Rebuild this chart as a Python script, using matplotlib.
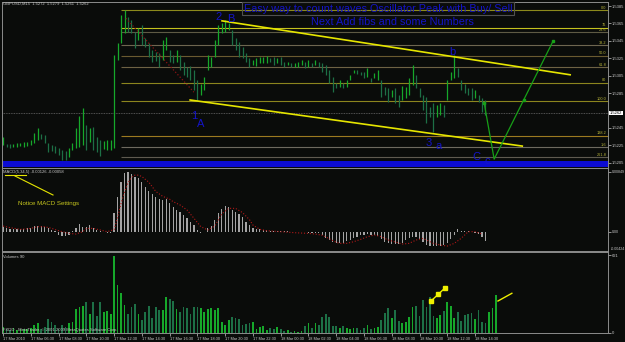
import matplotlib
matplotlib.use('Agg')
import matplotlib.pyplot as plt
from matplotlib.patches import Rectangle

plt.rcParams['font.family'] = ['Liberation Sans', 'DejaVu Sans']

# GBPUSD M15 bars (high / low), one per 15 minutes from 17 Mar 04:30
high = [1.5235, 1.5226, 1.5226, 1.5226, 1.5228, 1.5228, 1.5229, 1.5229, 1.5231, 1.5239,
        1.5245, 1.5238, 1.5237, 1.5228, 1.5225, 1.5224, 1.5222, 1.5220, 1.5218, 1.5222,
        1.5228, 1.5245, 1.5259, 1.5268, 1.5248, 1.5245, 1.5246, 1.5235, 1.5231, 1.5230,
        1.5231, 1.5231, 1.5329, 1.5343, 1.5375, 1.5381, 1.5373, 1.5369, 1.5355, 1.5360,
        1.5363, 1.5348, 1.5343, 1.5335, 1.5332, 1.5331, 1.5346, 1.5350, 1.5335, 1.5329,
        1.5335, 1.5329, 1.5321, 1.5315, 1.5316, 1.5312, 1.5300, 1.5295, 1.5304, 1.5329,
        1.5327, 1.5346, 1.5363, 1.5366, 1.5369, 1.5366, 1.5358, 1.5348, 1.5344, 1.5338,
        1.5331, 1.5325, 1.5323, 1.5325, 1.5327, 1.5327, 1.5328, 1.5325, 1.5327, 1.5325,
        1.5327, 1.5321, 1.5321, 1.5320, 1.5320, 1.5321, 1.5323, 1.5321, 1.5323, 1.5320,
        1.5323, 1.5321, 1.5320, 1.5317, 1.5312, 1.5304, 1.5297, 1.5300, 1.5297, 1.5300,
        1.5306, 1.5312, 1.5312, 1.5309, 1.5309, 1.5314, 1.5302, 1.5308, 1.5312, 1.5300,
        1.5292, 1.5291, 1.5289, 1.5291, 1.5283, 1.5293, 1.5292, 1.5302, 1.5317, 1.5306,
        1.5291, 1.5283, 1.5281, 1.5269, 1.5274, 1.5271, 1.5274, 1.5271, 1.5300, 1.5309,
        1.5329, 1.5314, 1.5300, 1.5295, 1.5291, 1.5291, 1.5289, 1.5283, 1.5279, 1.5277]
low = [1.5225, 1.5223, 1.5222, 1.5223, 1.5223, 1.5224, 1.5223, 1.5224, 1.5225, 1.5228,
       1.5231, 1.5232, 1.5228, 1.5217, 1.5218, 1.5216, 1.5214, 1.5208, 1.5208, 1.5212,
       1.5220, 1.5222, 1.5223, 1.5225, 1.5220, 1.5229, 1.5220, 1.5217, 1.5213, 1.5221,
       1.5220, 1.5220, 1.5222, 1.5323, 1.5343, 1.5354, 1.5355, 1.5354, 1.5337, 1.5346,
       1.5340, 1.5338, 1.5327, 1.5321, 1.5322, 1.5315, 1.5323, 1.5335, 1.5321, 1.5320,
       1.5321, 1.5312, 1.5306, 1.5304, 1.5300, 1.5289, 1.5276, 1.5283, 1.5289, 1.5312,
       1.5315, 1.5327, 1.5340, 1.5354, 1.5355, 1.5358, 1.5340, 1.5335, 1.5327, 1.5325,
       1.5321, 1.5315, 1.5317, 1.5316, 1.5320, 1.5320, 1.5320, 1.5321, 1.5317, 1.5320,
       1.5317, 1.5315, 1.5317, 1.5315, 1.5315, 1.5315, 1.5317, 1.5314, 1.5315, 1.5315,
       1.5317, 1.5315, 1.5309, 1.5306, 1.5297, 1.5286, 1.5291, 1.5292, 1.5291, 1.5292,
       1.5300, 1.5308, 1.5307, 1.5306, 1.5302, 1.5304, 1.5298, 1.5302, 1.5300, 1.5281,
       1.5283, 1.5275, 1.5281, 1.5274, 1.5269, 1.5277, 1.5279, 1.5283, 1.5294, 1.5291,
       1.5281, 1.5266, 1.5251, 1.5258, 1.5240, 1.5258, 1.5260, 1.5258, 1.5277, 1.5300,
       1.5302, 1.5304, 1.5289, 1.5285, 1.5283, 1.5277, 1.5279, 1.5275, 1.5263, 1.5260]

macd = [0.00071, 0.00047, 0.00038, 0.00038, 0.00033, 0.00033, 0.00038, 0.00047, 0.00057, 0.00080,
        0.00085, 0.00080, 0.00071, 0.00047, 0.00024, 0.00009, -0.00047, -0.00061, -0.00061, -0.00042,
        0.00009, 0.00047, 0.00109, 0.00071, 0.00071, 0.00094, 0.00057, 0.00024, 0.00005, -0.00009,
        -0.00014, -0.00014, 0.00260, 0.00496, 0.00708, 0.00825, 0.00849, 0.00820, 0.00779, 0.00755,
        0.00708, 0.00637, 0.00580, 0.00533, 0.00496, 0.00458, 0.00448, 0.00458, 0.00411, 0.00354,
        0.00307, 0.00283, 0.00236, 0.00189, 0.00142, 0.00094, 0.00024, -0.00014, 0.00000, 0.00047,
        0.00080, 0.00165, 0.00260, 0.00316, 0.00363, 0.00354, 0.00307, 0.00283, 0.00250, 0.00203,
        0.00142, 0.00094, 0.00047, 0.00038, 0.00033, 0.00024, 0.00024, 0.00014, 0.00014, 0.00009,
        0.00009, 0.00005, 0.00005, 0.00000, -0.00005, -0.00009, -0.00005, -0.00009, -0.00014, -0.00014,
        -0.00019, -0.00024, -0.00047, -0.00094, -0.00118, -0.00142, -0.00165, -0.00165, -0.00156, -0.00137,
        -0.00118, -0.00094, -0.00071, -0.00047, -0.00047, -0.00033, -0.00047, -0.00052, -0.00066, -0.00109,
        -0.00142, -0.00165, -0.00170, -0.00179, -0.00175, -0.00156, -0.00118, -0.00094, -0.00071, -0.00080,
        -0.00099, -0.00146, -0.00189, -0.00203, -0.00203, -0.00203, -0.00203, -0.00189, -0.00156, -0.00109,
        -0.00047, 0.00033, 0.00014, 0.00009, 0.00005, 0.00000, -0.00014, -0.00033, -0.00071, -0.00127]

signal_idx = [0, 2, 5, 8, 10, 12, 14, 16, 19, 21, 23, 24, 26, 28, 30, 32, 33, 34, 35, 36,
              37, 38, 39, 40, 42, 44, 46, 48, 49, 51, 53, 55, 57, 59, 61, 63, 65, 67, 69, 71,
              72, 74, 76, 80, 84, 88, 90, 92, 94, 96, 97, 99, 101, 103, 105, 107, 109, 111, 113, 115,
              117, 119, 121, 122, 124, 126, 128, 130, 132, 134, 136, 138]
signal = [0.00080, 0.00057, 0.00033, 0.00047, 0.00071, 0.00071, 0.00047, 0.00014, -0.00024, -0.00033,
          0.00000, 0.00047, 0.00047, 0.00024, 0.00000, 0.00030, 0.00200, 0.00400, 0.00560, 0.00690,
          0.00770, 0.00800, 0.00800, 0.00780, 0.00700, 0.00570, 0.00500, 0.00460, 0.00425, 0.00378,
          0.00307, 0.00190, 0.00070, 0.00024, 0.00080, 0.00250, 0.00330, 0.00330, 0.00270, 0.00170,
          0.00094, 0.00033, 0.00014, 0.00000, -0.00014, -0.00024, -0.00033, -0.00050, -0.00100, -0.00150,
          -0.00165, -0.00165, -0.00142, -0.00109, -0.00071, -0.00047, -0.00071, -0.00118, -0.00145, -0.00175,
          -0.00165, -0.00118, -0.00094, -0.00118, -0.00165, -0.00189, -0.00203, -0.00165, -0.00094, 0.00000,
          0.00000, -0.00033]

volume = [46, 32, 19, 38, 19, 32, 32, 32, 38, 59,
          73, 32, 46, 108, 86, 59, 32, 59, 46, 73,
          86, 188, 207, 215, 247, 153, 242, 134, 242, 167,
          172, 153, 615, 382, 315, 221, 153, 207, 226, 153,
          100, 167, 215, 118, 207, 180, 180, 288, 274, 253,
          188, 167, 207, 194, 153, 207, 207, 194, 167, 188,
          194, 180, 194, 86, 59, 100, 126, 113, 108, 59,
          65, 73, 86, 32, 46, 51, 19, 38, 32, 46,
          32, 11, 19, 5, 11, 5, 13, 54, 75, 35,
          75, 59, 121, 153, 121, 54, 54, 35, 54, 35,
          27, 40, 35, 19, 40, 59, 27, 35, 46, 100,
          161, 196, 116, 180, 94, 73, 81, 121, 207, 215,
          134, 264, 207, 289, 134, 116, 143, 175, 242, 215,
          116, 167, 89, 140, 153, 161, 108, 180, 81, 73,
          167, 196, 304]

price_ticks = [1.5385, 1.5365, 1.5345, 1.5325, 1.5305, 1.5285, 1.5245, 1.5225, 1.5205]
last_price = 1.5262
fib_levels = [1.5380, 1.5360, 1.5355, 1.5340, 1.5328, 1.5315, 1.5297, 1.5276, 1.5236, 1.5223, 1.5211]
fib_names = ['0.0', '76', '23.6', '38.2', '50.0', '61.8', '80', '100.0', '138.2', '1.6', '261.8']
fib_colors = ['#8c8a1c', '#c4c21e', '#5e5a44', '#6e6650', '#6a5a30', '#6e6244',
              '#8c861e', '#8c861e', '#9c7a20', '#6e6a60', '#5e5a50']

# drawn objects on the price pane (bar index, price)
upper_x, upper_y = [63.1, 163.4], [1.5368, 1.5306]
lower_x, lower_y = [53.9, 149.6], [1.5277, 1.5224]
red_x, red_y = [35.4, 55.0], [1.5371, 1.5286]
zig_x, zig_y = [138.6, 141.5, 158.5], [1.5274, 1.5209, 1.5345]
vol_mark_x, vol_mark_y = [123.3, 125.4, 127.4], [254, 308, 361]
vol_mark2_x, vol_mark2_y = [142.6, 146.6], [254, 316]

time_idx = list(range(0, 137, 8))
time_labels = ['17 Mar 2010', '17 Mar 06:30', '17 Mar 08:30', '17 Mar 10:30', '17 Mar 12:30',
               '17 Mar 14:30', '17 Mar 16:30', '17 Mar 18:30', '17 Mar 20:30', '17 Mar 22:30',
               '18 Mar 00:30', '18 Mar 02:30', '18 Mar 04:30', '18 Mar 06:30', '18 Mar 08:30',
               '18 Mar 10:30', '18 Mar 12:30', '18 Mar 14:30']

W, H = 625, 342
bg = '#0a0c0a'
axis_col = '#8c8c8c'
text_col = '#c8c8c8'
wave_blue = '#1414c8'
small = 3.0


def fpos(x, y):
    # pixel position -> figure fraction
    return x / W, 1 - y / H


fig = plt.figure(figsize=(6.25, 3.42), dpi=100, facecolor=bg)
ax_p = fig.add_axes([2 / W, 1 - 168 / H, 606 / W, 166 / H])
ax_m = fig.add_axes([2 / W, 1 - 251 / H, 606 / W, 83 / H])
ax_v = fig.add_axes([2 / W, 1 - 333 / H, 606 / W, 81 / H])

for ax in (ax_p, ax_m, ax_v):
    ax.set_facecolor(bg)
    ax.set_xlim(-0.3, 174.3)
    for s in ax.spines.values():
        s.set_color(axis_col)
        s.set_linewidth(0.7)
    ax.yaxis.tick_right()
    ax.tick_params(axis='y', labelsize=small, colors=text_col, length=2, width=0.5, pad=1)

idx = list(range(len(high)))
mid = [(h + l) / 2 for h, l in zip(high, low)]
up = [True] + [mid[i] >= mid[i - 1] for i in range(1, len(mid))]
bar_cols = ['#16a82a' if u else '#1d7046' for u in up]

# ---- price pane
ax_p.set_ylim(1.51988, 1.53897)
ax_p.set_xticks([])
ax_p.set_yticks(price_ticks, ['%.4f' % p for p in price_ticks])
ax_p.axhspan(1.51999, 1.52063, color='#0c0cd2', lw=0)
ax_p.hlines(fib_levels, 33.9, 174.3, colors=fib_colors, lw=0.8)
for lev, name in zip(fib_levels, fib_names):
    ax_p.text(173.8, lev + 0.00004, name, fontsize=2.8, color='#b8b43a', ha='right', va='bottom')
ax_p.axhline(last_price, color='#6a6a6a', lw=0.6, ls=(0, (1, 1)))
ax_p.text(1.003, last_price, '%.4f' % last_price, transform=ax_p.get_yaxis_transform(),
          fontsize=small, color='black', va='center', ha='left',
          bbox=dict(fc='white', ec='none', pad=0.3), clip_on=False)
ax_p.vlines(idx, low, high, colors=bar_cols, lw=0.9)
ax_p.plot(red_x, red_y, color='#8a1414', lw=0.9, ls=':')
ax_p.plot(upper_x, upper_y, color='#e6e600', lw=1.2)
ax_p.plot(lower_x, lower_y, color='#e6e600', lw=1.2)
ax_p.plot(zig_x, zig_y, color='#17a017', lw=0.9)
ax_p.plot([zig_x[0], (zig_x[1] + zig_x[2]) / 2, zig_x[2]],
          [zig_y[0], (zig_y[1] + zig_y[2]) / 2, zig_y[2]],
          ls='none', marker='s', ms=2, color='#17a017')
for t, xx, yy in [('2', 62.2, 1.5372), ('B', 65.7, 1.5370), ('1', 55.0, 1.5259),
                  ('A', 56.8, 1.5249), ('b', 129.4, 1.5332), ('3', 122.5, 1.5228),
                  ('a', 125.4, 1.5224), ('C', 136.3, 1.5211), ('c', 139.5, 1.5207)]:
    ax_p.text(xx, yy, t, fontsize=8, color=wave_blue, ha='center', va='center')

# ---- MACD pane
ax_m.set_ylim(-0.00273, 0.00901)
ax_m.set_xticks([])
ax_m.set_yticks([0.00849, 0.0], ['0.00849', '0.00'])
ax_m.tick_params(axis='y', labelsize=2.6)
ax_m.bar(idx, macd, width=0.35, color='#a4a4a4', lw=0)
ax_m.plot(signal_idx, signal, color='#b01818', lw=0.8, ls=':')
ax_m.text(1.004, 0.03, '-0.00424', transform=ax_m.transAxes, fontsize=2.6, color=text_col,
          va='center', ha='left')

# ---- volume pane
vidx = list(range(len(volume)))
vcols = [bar_cols[i] if i < len(bar_cols) else '#16a82a' for i in vidx]
ax_v.set_ylim(-4, 649)
ax_v.set_yticks([621, 0], ['621', '0'])
ax_v.bar(vidx, volume, width=0.5, color=vcols, lw=0)
ax_v.plot(vol_mark_x, vol_mark_y, color='#f0f000', lw=1, marker='s', ms=2.2)
ax_v.plot(vol_mark2_x, vol_mark2_y, color='#f0f000', lw=1)
ax_v.set_xticks(time_idx)
ax_v.set_xticklabels(time_labels, ha='left', fontsize=2.8)
ax_v.tick_params(axis='x', colors=text_col, length=2, width=0.5, pad=1)

# ---- texts and decorations in pixel positions
fig.text(*fpos(3, 4), 'GBPUSD,M15  1.5272  1.5279  1.5261  1.5262', fontsize=small,
         color=text_col, va='center')
fig.patches.append(Rectangle(fpos(242, 15), 272 / W, 13 / H, transform=fig.transFigure,
                             fill=False, ec='#505050', lw=0.8))
fig.text(*fpos(244, 8.5), 'Easy way to count waves Oscillator Peak with Buy/ Sell', fontsize=7.8,
         color=wave_blue, va='center')
fig.text(*fpos(311, 22), 'Next Add fibs and some Numbers', fontsize=7.8, color=wave_blue,
         va='center')
fig.text(*fpos(3, 172.5), 'MACD(5,34,5) -0.00126 -0.00058', fontsize=small, color=text_col,
         va='center')
fig.lines.append(plt.Line2D([5 / W, 26 / W], [1 - 175 / H, 1 - 175 / H], transform=fig.transFigure,
                            color='#e6e600', lw=0.8))
fig.lines.append(plt.Line2D([15 / W, 53 / W], [1 - 176 / H, 1 - 195 / H], transform=fig.transFigure,
                            color='#e6e600', lw=0.8))
fig.text(*fpos(18, 203), 'Notice MACD Settings', fontsize=4.4, color='#c8c81e', va='center')
fig.text(*fpos(3, 256.5), 'Volumes 90', fontsize=small, color=text_col, va='center')
fig.text(*fpos(3, 330), 'FXDD - MetaTrader, \u00a9 2001-2009 MetaQuotes Software Corp.',
         fontsize=small, color=text_col, va='center')

fig.savefig('out.png', dpi=100, facecolor=bg)
